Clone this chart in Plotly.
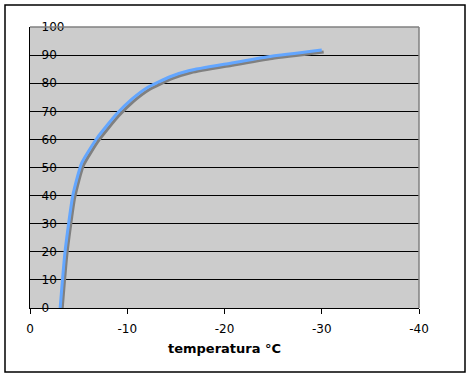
import plotly.graph_objects as go

temperature = [-3.1, -3.6, -4.4, -5.3, -6.9, -8.9, -10.5, -12.0, -14.4, -16.4, -20.6, -24.7, -30.0]
frozen_pct = [0, 20, 40, 51.5, 60.5, 69, 74.4, 78.3, 82.3, 84.5, 87.1, 89.5, 91.8]
x_ticks = [0, -10, -20, -30, -40]
y_ticks = [0, 10, 20, 30, 40, 50, 60, 70, 80, 90, 100]

W, H = 471, 378
L, R, T, B = 30, 52, 27, 70
pw, ph = W - L - R, H - T - B

fig = go.Figure()
# shadow
fig.add_trace(go.Scatter(
    x=[v - 0.2 for v in temperature], y=[v - 0.7 for v in frozen_pct],
    mode="lines", line=dict(color="#808080", width=3, shape="spline", smoothing=0.5),
    hoverinfo="skip", showlegend=False))
fig.add_trace(go.Scatter(
    x=temperature, y=frozen_pct, mode="lines",
    line=dict(color="#63A6FF", width=3, shape="spline", smoothing=0.5),
    showlegend=False))

font = dict(family="DejaVu Sans, Verdana, sans-serif", size=12, color="#000000")

fig.update_layout(
    width=W, height=H,
    margin=dict(l=L, r=R, t=T, b=B, autoexpand=False),
    paper_bgcolor="white", plot_bgcolor="#CCCCCC",
    font=font,
    xaxis=dict(
        range=[0, -40], tickvals=x_ticks, ticktext=[str(v) for v in x_ticks],
        showgrid=False, zeroline=False, showline=True, linecolor="black", linewidth=1,
        ticks="outside", ticklen=5, tickcolor="black", tickwidth=1,
        ticklabelstandoff=5, tickfont=dict(size=12, color="#000000"),
        title=dict(text="<b>temperatura °C</b>", font=dict(size=13, color="#000000"), standoff=8),
    ),
    yaxis=dict(
        range=[0, 100], tickvals=y_ticks, ticktext=[str(v) for v in y_ticks],
        showgrid=True, gridcolor="black", gridwidth=1, zeroline=False,
        showline=True, linecolor="black", linewidth=1,
        ticks="inside", ticklen=5, tickcolor="black",
        tickfont=dict(size=12, color="#000000"),
        ticklabelposition="inside", ticklabelstandoff=6, ticklabeloverflow="allow",
    ),
    shapes=[
        # plot area gray top and right border
        dict(type="line", xref="paper", yref="paper", x0=0, x1=1, y0=1, y1=1,
             line=dict(color="#808080", width=1.5), layer="above"),
        dict(type="line", xref="paper", yref="paper", x0=1, x1=1, y0=0, y1=1,
             line=dict(color="#808080", width=1.5), layer="above"),
        # outer chart border
        dict(type="rect", xref="paper", yref="paper",
             x0=(5 - L) / pw, x1=(465 - L) / pw,
             y0=(H - B - 372) / ph, y1=(H - B - 5) / ph,
             line=dict(color="black", width=1.5), layer="above"),
    ],
)

fig.write_html("out.html", config={"displayModeBar": False},
               post_script="document.body.style.margin='0';document.body.style.overflow='hidden';")
